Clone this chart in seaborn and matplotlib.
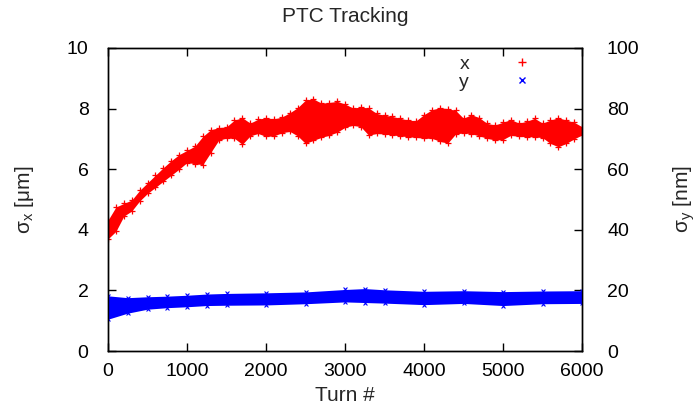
import numpy as np
import pandas as pd
import matplotlib
matplotlib.use("Agg")
import matplotlib.pyplot as plt
from matplotlib.lines import Line2D
import seaborn as sns

# ---- data ----
turns_x = [0, 100, 200, 300, 400, 500, 600, 700, 800, 900, 1000, 1100, 1200, 1300, 1400,
           1500, 1600, 1700, 1800, 1900, 2000, 2100, 2200, 2300, 2400, 2500, 2600, 2700,
           2800, 2900, 3000, 3100, 3200, 3300, 3400, 3500, 3600, 3700, 3800, 3900, 4000,
           4100, 4200, 4300, 4400, 4500, 4600, 4700, 4800, 4900, 5000, 5100, 5200, 5300,
           5400, 5500, 5600, 5700, 5800, 5900, 6000]
sigx_upper = [4.32, 4.75, 4.87, 4.98, 5.30, 5.55, 5.80, 6.05, 6.28, 6.48, 6.62, 6.76, 7.08,
              7.30, 7.37, 7.40, 7.62, 7.70, 7.52, 7.65, 7.70, 7.66, 7.72, 7.86, 8.03, 8.28,
              8.32, 8.18, 8.20, 8.24, 8.15, 8.02, 8.05, 8.02, 7.84, 7.78, 7.74, 7.68, 7.62,
              7.60, 7.80, 7.96, 8.03, 8.00, 7.94, 7.68, 7.80, 7.70, 7.51, 7.46, 7.55, 7.64,
              7.52, 7.58, 7.68, 7.52, 7.62, 7.70, 7.62, 7.55, 7.40]
sigx_lower = [3.70, 3.95, 4.45, 4.62, 4.95, 5.20, 5.40, 5.60, 5.80, 6.00, 6.22, 6.18, 6.15,
              6.55, 6.95, 7.03, 7.02, 6.82, 7.10, 7.18, 7.08, 7.10, 7.20, 7.25, 7.10, 6.85,
              6.95, 7.05, 7.12, 7.22, 7.38, 7.45, 7.40, 7.12, 7.18, 7.16, 7.13, 7.10, 7.07,
              7.05, 7.02, 7.02, 6.92, 6.86, 7.16, 7.20, 7.17, 7.10, 7.02, 6.96, 6.98, 7.12,
              7.08, 7.07, 7.07, 7.04, 6.85, 6.74, 6.85, 7.00, 7.13]

turns_y = [0, 250, 500, 750, 1000, 1250, 1500, 2000, 2500, 3000, 3250, 3500, 4000, 4500,
           5000, 5500, 6000]
sigy_upper = [18.2, 17.6, 17.9, 18.1, 18.4, 18.8, 19.0, 19.2, 19.5, 20.3, 20.6, 20.2, 19.7,
              19.9, 19.6, 19.8, 19.9]
sigy_lower = [10.5, 12.5, 13.8, 14.3, 14.6, 15.0, 15.1, 15.2, 15.6, 16.2, 16.0, 15.8, 15.3,
              15.7, 15.0, 15.6, 15.7]

x_ticks = [0, 1000, 2000, 3000, 4000, 5000, 6000]
y1_ticks = [0, 2, 4, 6, 8, 10]
y2_ticks = [0, 20, 40, 60, 80, 100]

title = "PTC Tracking"
xlabel = "Turn #"
y1label = "σ$_{\\mathregular{x}}$ [μm]"
y2label = "σ$_{\\mathregular{y}}$ [nm]"

# ---- long-format tables ----
dfx = pd.DataFrame({"turn": turns_x + turns_x, "sigma": sigx_upper + sigx_lower})
dfy = pd.DataFrame({"turn": turns_y + turns_y, "sigma": sigy_upper + sigy_lower})

sns.set_theme(style="ticks")
plt.rcParams["font.family"] = ["Liberation Sans", "DejaVu Sans"]
plt.rcParams["mathtext.fontset"] = "custom"
plt.rcParams["mathtext.rm"] = "Liberation Sans"

RED = "#ff0000"
BLUE = "#0000ff"

fig = plt.figure(figsize=(6.99, 4.13), dpi=100)
ax = fig.add_axes([108 / 699, 1 - 351 / 413, (582 - 108) / 699, (351 - 48) / 413])
ax2 = ax.twinx()

sns.lineplot(data=dfx, x="turn", y="sigma", estimator="mean", errorbar=("pi", 100),
             color=RED, lw=1.0, err_kws={"alpha": 1.0, "lw": 0}, ax=ax, legend=False)
sns.scatterplot(data=dfx, x="turn", y="sigma", marker="+", color=RED, s=14, linewidth=0.9,
                ax=ax, legend=False)
sns.lineplot(data=dfy, x="turn", y="sigma", estimator="mean", errorbar=("pi", 100),
             color=BLUE, lw=1.0, err_kws={"alpha": 1.0, "lw": 0}, ax=ax2, legend=False)
sns.scatterplot(data=dfy, x="turn", y="sigma", marker="x", color=BLUE, s=8, linewidth=0.8,
                ax=ax2, legend=False)

ax.set_xlim(0, 6000)
ax.set_ylim(0, 10)
ax2.set_ylim(0, 100)
ax.set_xticks(x_ticks)
ax.set_yticks(y1_ticks)
ax2.set_yticks(y2_ticks)
ax.set_xticklabels([str(t) for t in x_ticks])
ax.set_yticklabels([str(t) for t in y1_ticks])
ax2.set_yticklabels([str(t) for t in y2_ticks])

for a in (ax, ax2):
    for s in a.spines.values():
        s.set_visible(True)
        s.set_color("black")
        s.set_linewidth(1.0)

ax.tick_params(axis="x", direction="in", length=6, width=1, top=True, bottom=True,
               labelsize=14, pad=9, colors="black")
ax.tick_params(axis="y", direction="in", length=6, width=1, left=True, right=False,
               labelsize=14, pad=14, colors="black")
ax2.tick_params(axis="y", direction="in", length=6, width=1, right=True, left=False,
                labelsize=14, pad=18, colors="black")

ax.set_xlabel(xlabel, fontsize=15, labelpad=4)
ax.set_ylabel(y1label, fontsize=15, labelpad=22)
ax2.set_ylabel(y2label, fontsize=15, labelpad=23)
fig.text(345 / 699, 1 - 17 / 413, title, ha="center", va="center", fontsize=15)

handles = [Line2D([], [], marker="+", color=RED, ls="none", markersize=6, mew=1),
           Line2D([], [], marker="x", color=BLUE, ls="none", markersize=5, mew=1)]
leg = ax.legend(handles, ["x", "y"], loc="upper right", bbox_to_anchor=(0.922, 1.02),
                frameon=False, markerfirst=False, fontsize=14, handlelength=1.0,
                handletextpad=2.2, labelspacing=0.0, borderpad=0.2)

fig.savefig("out.png", dpi=100)
